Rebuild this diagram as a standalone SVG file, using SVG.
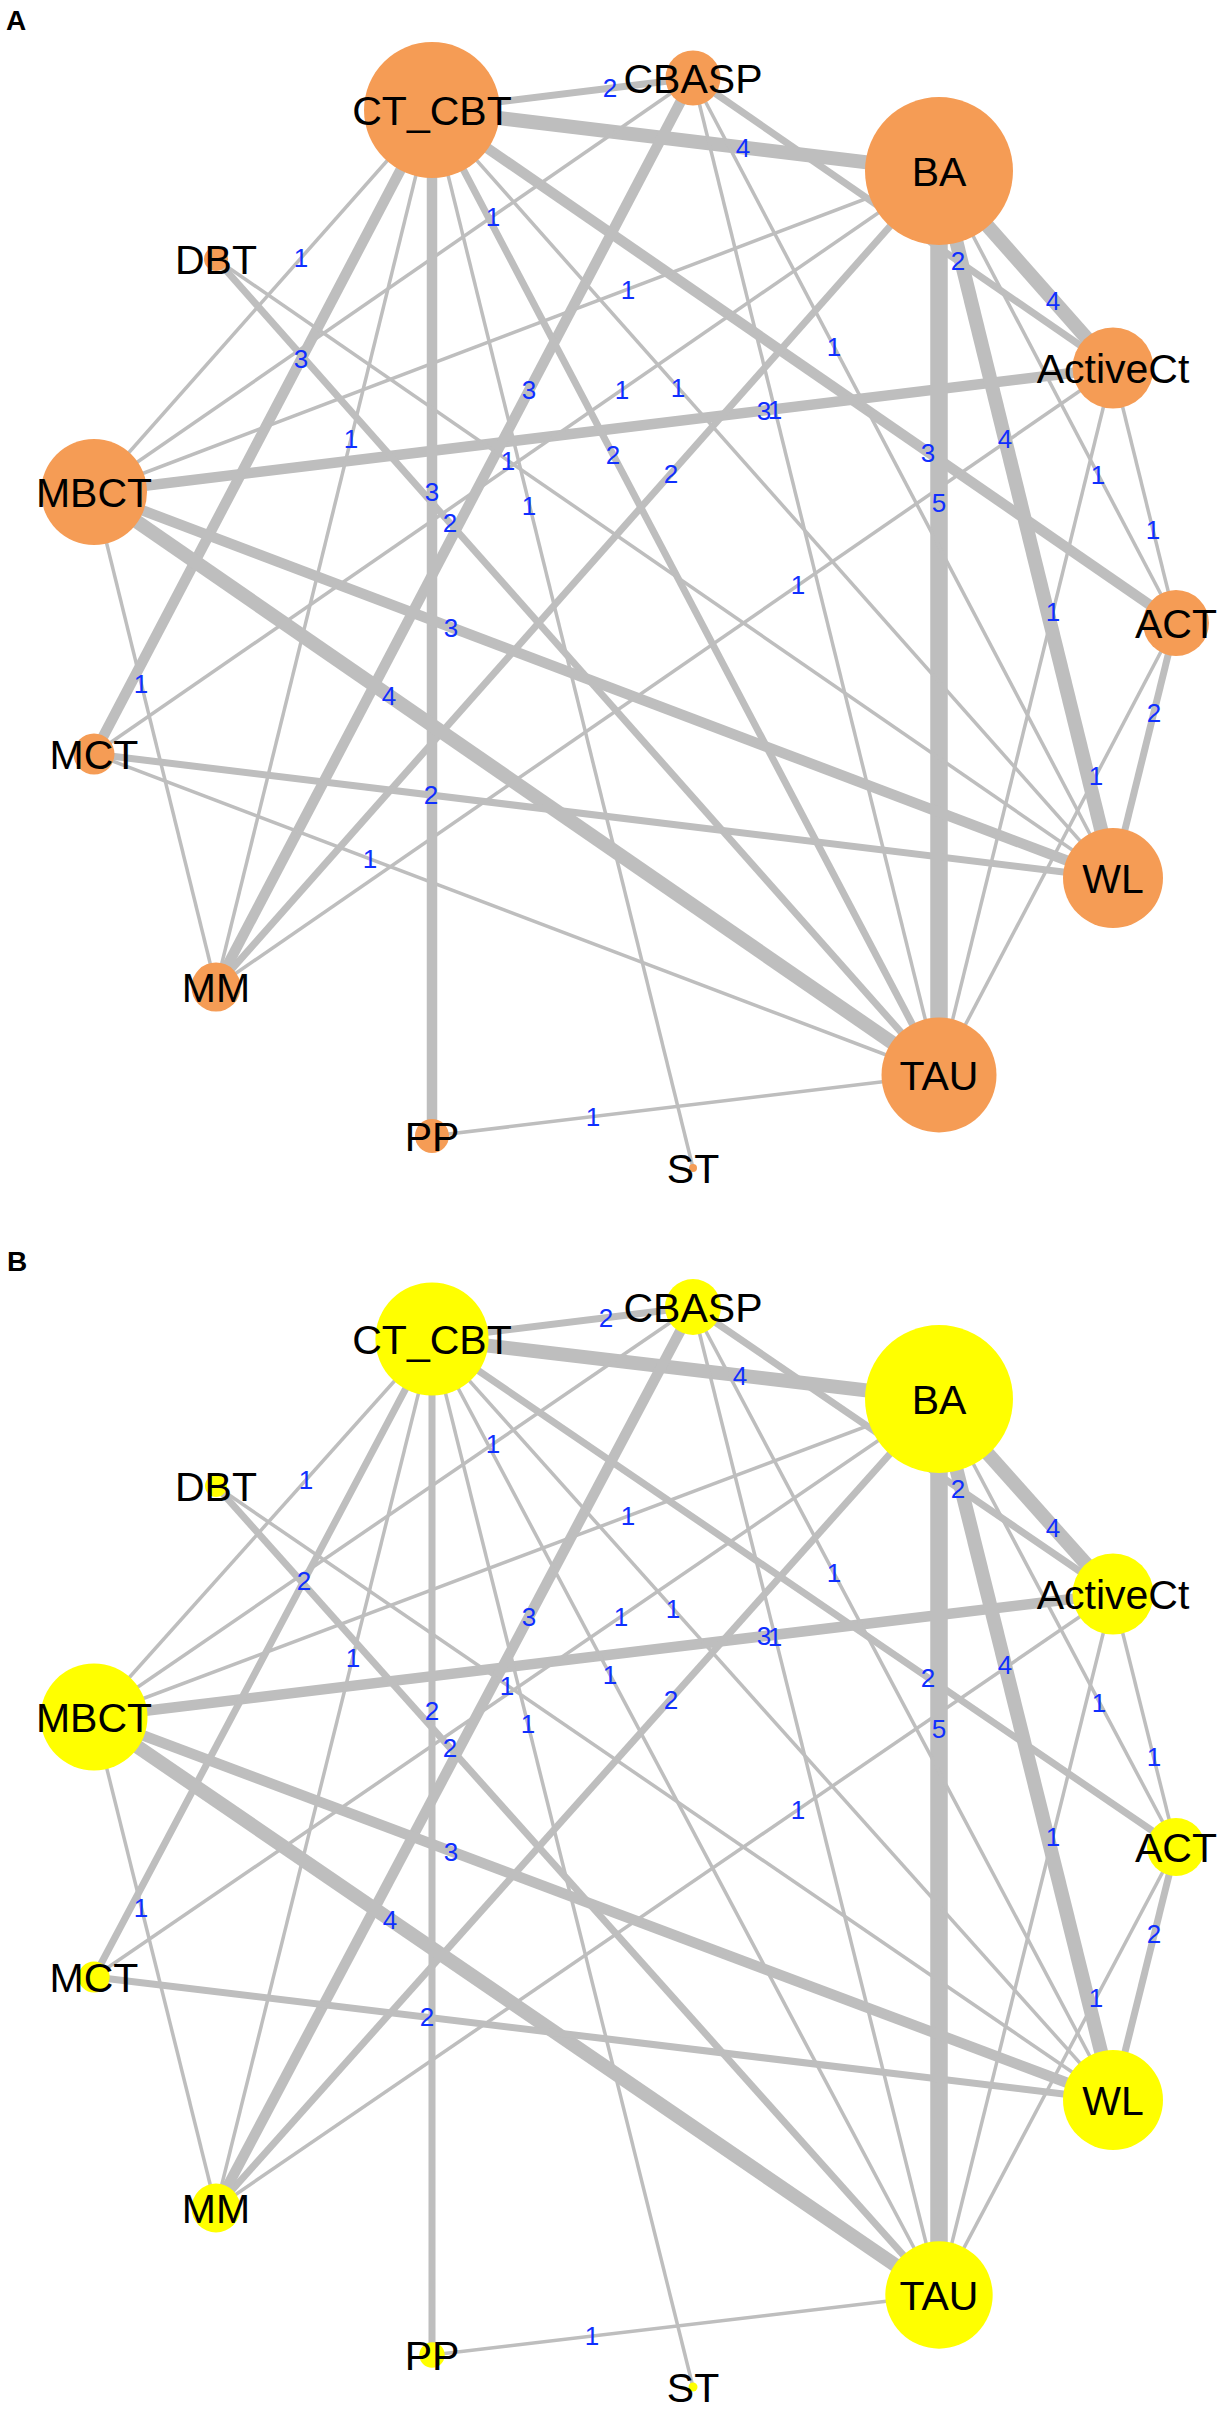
<svg xmlns="http://www.w3.org/2000/svg" width="1224" height="2413" viewBox="0 0 1224 2413">
<style>
.bg{fill:#ffffff}
line{stroke:#BEBEBE;stroke-linecap:butt;fill:none}
.w1{stroke-width:3.5}.w2{stroke-width:7}.w3{stroke-width:10.5}.w4{stroke-width:14}.w5{stroke-width:17.5}
.el{font-family:"Liberation Sans",Arial,Helvetica,sans-serif;font-size:26px;fill:#0F2FFF;text-anchor:middle}
.nl{font-family:"Liberation Sans",Arial,Helvetica,sans-serif;font-size:41px;fill:#000000;text-anchor:middle}
.pl{font-family:"Liberation Sans",Arial,Helvetica,sans-serif;font-size:28px;font-weight:bold;fill:#000000}
.oa{fill:#F59C55}
.ob{fill:#FFFF00}
</style>
<rect class="bg" x="0" y="0" width="1224" height="2413"/>
<text class="pl" x="6" y="30">A</text>
<text class="pl" x="7" y="1271">B</text>

<g id="connectors-A">
<line class="w1" x1="1176" y1="623" x2="1113" y2="368"/>
<line class="w1" x1="1176" y1="623" x2="939" y2="171"/>
<line class="w3" x1="1176" y1="623" x2="432" y2="110"/>
<line class="w1" x1="1176" y1="623" x2="939" y2="1075"/>
<line class="w2" x1="1176" y1="623" x2="1113" y2="878"/>
<line class="w4" x1="1113" y1="368" x2="939" y2="171"/>
<line class="w2" x1="1113" y1="368" x2="693" y2="78"/>
<line class="w3" x1="1113" y1="368" x2="94" y2="492"/>
<line class="w1" x1="1113" y1="368" x2="216" y2="987"/>
<line class="w1" x1="1113" y1="368" x2="939" y2="1075"/>
<line class="w4" x1="939" y1="171" x2="432" y2="110"/>
<line class="w1" x1="939" y1="171" x2="94" y2="492"/>
<line class="w1" x1="939" y1="171" x2="94" y2="754"/>
<line class="w2" x1="939" y1="171" x2="216" y2="987"/>
<line class="w5" x1="939" y1="171" x2="939" y2="1075"/>
<line class="w4" x1="939" y1="171" x2="1113" y2="878"/>
<line class="w2" x1="693" y1="78" x2="432" y2="110"/>
<line class="w1" x1="693" y1="78" x2="94" y2="492"/>
<line class="w3" x1="693" y1="78" x2="216" y2="987"/>
<line class="w1" x1="693" y1="78" x2="939" y2="1075"/>
<line class="w1" x1="693" y1="78" x2="1113" y2="878"/>
<line class="w1" x1="432" y1="110" x2="94" y2="492"/>
<line class="w3" x1="432" y1="110" x2="94" y2="754"/>
<line class="w1" x1="432" y1="110" x2="216" y2="987"/>
<line class="w3" x1="432" y1="110" x2="432" y2="1136"/>
<line class="w1" x1="432" y1="110" x2="693" y2="1168"/>
<line class="w2" x1="432" y1="110" x2="939" y2="1075"/>
<line class="w1" x1="432" y1="110" x2="1113" y2="878"/>
<line class="w2" x1="216" y1="259" x2="939" y2="1075"/>
<line class="w1" x1="216" y1="259" x2="1113" y2="878"/>
<line class="w1" x1="94" y1="492" x2="216" y2="987"/>
<line class="w4" x1="94" y1="492" x2="939" y2="1075"/>
<line class="w3" x1="94" y1="492" x2="1113" y2="878"/>
<line class="w1" x1="94" y1="754" x2="939" y2="1075"/>
<line class="w2" x1="94" y1="754" x2="1113" y2="878"/>
<line class="w1" x1="432" y1="1136" x2="939" y2="1075"/>
</g>

<g id="connectors-B">
<line class="w1" x1="1176" y1="1847" x2="1113" y2="1594"/>
<line class="w1" x1="1176" y1="1847" x2="939" y2="1399"/>
<line class="w2" x1="1176" y1="1847" x2="432" y2="1339"/>
<line class="w1" x1="1176" y1="1847" x2="939" y2="2295"/>
<line class="w2" x1="1176" y1="1847" x2="1113" y2="2100"/>
<line class="w4" x1="1113" y1="1594" x2="939" y2="1399"/>
<line class="w2" x1="1113" y1="1594" x2="693" y2="1307"/>
<line class="w3" x1="1113" y1="1594" x2="94" y2="1717"/>
<line class="w1" x1="1113" y1="1594" x2="216" y2="2208"/>
<line class="w1" x1="1113" y1="1594" x2="939" y2="2295"/>
<line class="w4" x1="939" y1="1399" x2="432" y2="1339"/>
<line class="w1" x1="939" y1="1399" x2="94" y2="1717"/>
<line class="w1" x1="939" y1="1399" x2="94" y2="1977"/>
<line class="w2" x1="939" y1="1399" x2="216" y2="2208"/>
<line class="w5" x1="939" y1="1399" x2="939" y2="2295"/>
<line class="w4" x1="939" y1="1399" x2="1113" y2="2100"/>
<line class="w2" x1="693" y1="1307" x2="432" y2="1339"/>
<line class="w1" x1="693" y1="1307" x2="94" y2="1717"/>
<line class="w3" x1="693" y1="1307" x2="216" y2="2208"/>
<line class="w1" x1="693" y1="1307" x2="939" y2="2295"/>
<line class="w1" x1="693" y1="1307" x2="1113" y2="2100"/>
<line class="w1" x1="432" y1="1339" x2="94" y2="1717"/>
<line class="w2" x1="432" y1="1339" x2="94" y2="1977"/>
<line class="w1" x1="432" y1="1339" x2="216" y2="2208"/>
<line class="w2" x1="432" y1="1339" x2="432" y2="2355"/>
<line class="w1" x1="432" y1="1339" x2="693" y2="2387"/>
<line class="w1" x1="432" y1="1339" x2="939" y2="2295"/>
<line class="w1" x1="432" y1="1339" x2="1113" y2="2100"/>
<line class="w2" x1="216" y1="1486" x2="939" y2="2295"/>
<line class="w1" x1="216" y1="1486" x2="1113" y2="2100"/>
<line class="w1" x1="94" y1="1717" x2="216" y2="2208"/>
<line class="w4" x1="94" y1="1717" x2="939" y2="2295"/>
<line class="w3" x1="94" y1="1717" x2="1113" y2="2100"/>
<line class="w2" x1="94" y1="1977" x2="1113" y2="2100"/>
<line class="w1" x1="432" y1="2355" x2="939" y2="2295"/>
</g>

<g id="edge-labels-A">
<text class="el" x="1153" y="539">1</text>
<text class="el" x="1098" y="484">1</text>
<text class="el" x="928" y="462">3</text>
<text class="el" x="1096" y="785">1</text>
<text class="el" x="1154" y="722">2</text>
<text class="el" x="1053" y="310">4</text>
<text class="el" x="958" y="270">2</text>
<text class="el" x="764" y="420">3</text>
<text class="el" x="798" y="594">1</text>
<text class="el" x="1053" y="621">1</text>
<text class="el" x="743" y="157">4</text>
<text class="el" x="628" y="299">1</text>
<text class="el" x="622" y="399">1</text>
<text class="el" x="671" y="483">2</text>
<text class="el" x="939" y="512">5</text>
<text class="el" x="1005" y="448">4</text>
<text class="el" x="610" y="97">2</text>
<text class="el" x="493" y="226">1</text>
<text class="el" x="529" y="399">3</text>
<text class="el" x="775" y="419">1</text>
<text class="el" x="834" y="356">1</text>
<text class="el" x="301" y="267">1</text>
<text class="el" x="301" y="368">3</text>
<text class="el" x="351" y="448">1</text>
<text class="el" x="432" y="501">3</text>
<text class="el" x="529" y="515">1</text>
<text class="el" x="613" y="464">2</text>
<text class="el" x="678" y="397">1</text>
<text class="el" x="450" y="532">2</text>
<text class="el" x="508" y="470">1</text>
<text class="el" x="141" y="693">1</text>
<text class="el" x="389" y="705">4</text>
<text class="el" x="451" y="637">3</text>
<text class="el" x="370" y="868">1</text>
<text class="el" x="431" y="804">2</text>
<text class="el" x="593" y="1126">1</text>
</g>

<g id="edge-labels-B">
<text class="el" x="1154" y="1766">1</text>
<text class="el" x="1099" y="1712">1</text>
<text class="el" x="928" y="1687">2</text>
<text class="el" x="1096" y="2007">1</text>
<text class="el" x="1154" y="1943">2</text>
<text class="el" x="1053" y="1537">4</text>
<text class="el" x="958" y="1498">2</text>
<text class="el" x="764" y="1645">3</text>
<text class="el" x="798" y="1819">1</text>
<text class="el" x="1053" y="1846">1</text>
<text class="el" x="740" y="1385">4</text>
<text class="el" x="628" y="1525">1</text>
<text class="el" x="621" y="1626">1</text>
<text class="el" x="671" y="1709">2</text>
<text class="el" x="939" y="1738">5</text>
<text class="el" x="1005" y="1674">4</text>
<text class="el" x="606" y="1327">2</text>
<text class="el" x="493" y="1453">1</text>
<text class="el" x="529" y="1626">3</text>
<text class="el" x="775" y="1646">1</text>
<text class="el" x="834" y="1582">1</text>
<text class="el" x="306" y="1489">1</text>
<text class="el" x="304" y="1590">2</text>
<text class="el" x="353" y="1667">1</text>
<text class="el" x="432" y="1720">2</text>
<text class="el" x="528" y="1733">1</text>
<text class="el" x="610" y="1684">1</text>
<text class="el" x="673" y="1618">1</text>
<text class="el" x="450" y="1757">2</text>
<text class="el" x="507" y="1695">1</text>
<text class="el" x="141" y="1917">1</text>
<text class="el" x="390" y="1929">4</text>
<text class="el" x="451" y="1861">3</text>
<text class="el" x="427" y="2026">2</text>
<text class="el" x="592" y="2345">1</text>
</g>

<g id="A-ACT"><circle class="oa" cx="1176" cy="623" r="33"/><text class="nl" x="1176" y="638">ACT</text></g>
<g id="A-ActiveCt"><circle class="oa" cx="1113" cy="368" r="40.5"/><text class="nl" x="1113" y="383">ActiveCt</text></g>
<g id="A-BA"><circle class="oa" cx="939" cy="171" r="74"/><text class="nl" x="939" y="186">BA</text></g>
<g id="A-CBASP"><circle class="oa" cx="693" cy="78" r="27.5"/><text class="nl" x="693" y="93">CBASP</text></g>
<g id="A-CT_CBT"><circle class="oa" cx="432" cy="110" r="68"/><text class="nl" x="432" y="125">CT_CBT</text></g>
<g id="A-DBT"><circle class="oa" cx="216" cy="259" r="12"/><text class="nl" x="216" y="274">DBT</text></g>
<g id="A-MBCT"><circle class="oa" cx="94" cy="492" r="53"/><text class="nl" x="94" y="507">MBCT</text></g>
<g id="A-MCT"><circle class="oa" cx="94" cy="754" r="20.5"/><text class="nl" x="94" y="769">MCT</text></g>
<g id="A-MM"><circle class="oa" cx="216" cy="987" r="24.5"/><text class="nl" x="216" y="1002">MM</text></g>
<g id="A-PP"><circle class="oa" cx="432" cy="1136" r="17"/><text class="nl" x="432" y="1151">PP</text></g>
<g id="A-ST"><circle class="oa" cx="693" cy="1168" r="4"/><text class="nl" x="693" y="1183">ST</text></g>
<g id="A-TAU"><circle class="oa" cx="939" cy="1075" r="57.5"/><text class="nl" x="939" y="1090">TAU</text></g>
<g id="A-WL"><circle class="oa" cx="1113" cy="878" r="50"/><text class="nl" x="1113" y="893">WL</text></g>

<g id="B-ACT"><circle class="ob" cx="1176" cy="1847" r="29"/><text class="nl" x="1176" y="1862">ACT</text></g>
<g id="B-ActiveCt"><circle class="ob" cx="1113" cy="1594" r="40.5"/><text class="nl" x="1113" y="1609">ActiveCt</text></g>
<g id="B-BA"><circle class="ob" cx="939" cy="1399" r="74"/><text class="nl" x="939" y="1414">BA</text></g>
<g id="B-CBASP"><circle class="ob" cx="693" cy="1307" r="28"/><text class="nl" x="693" y="1322">CBASP</text></g>
<g id="B-CT_CBT"><circle class="ob" cx="432" cy="1339" r="56.6"/><text class="nl" x="432" y="1354">CT_CBT</text></g>
<g id="B-DBT"><circle class="ob" cx="216" cy="1486" r="11"/><text class="nl" x="216" y="1501">DBT</text></g>
<g id="B-MBCT"><circle class="ob" cx="94" cy="1717" r="53.5"/><text class="nl" x="94" y="1732">MBCT</text></g>
<g id="B-MCT"><circle class="ob" cx="94" cy="1977" r="15.6"/><text class="nl" x="94" y="1992">MCT</text></g>
<g id="B-MM"><circle class="ob" cx="216" cy="2208" r="24.4"/><text class="nl" x="216" y="2223">MM</text></g>
<g id="B-PP"><circle class="ob" cx="432" cy="2355" r="12.7"/><text class="nl" x="432" y="2370">PP</text></g>
<g id="B-ST"><circle class="ob" cx="693" cy="2387" r="4.5"/><text class="nl" x="693" y="2402">ST</text></g>
<g id="B-TAU"><circle class="ob" cx="939" cy="2295" r="53.7"/><text class="nl" x="939" y="2310">TAU</text></g>
<g id="B-WL"><circle class="ob" cx="1113" cy="2100" r="50"/><text class="nl" x="1113" y="2115">WL</text></g>
</svg>
